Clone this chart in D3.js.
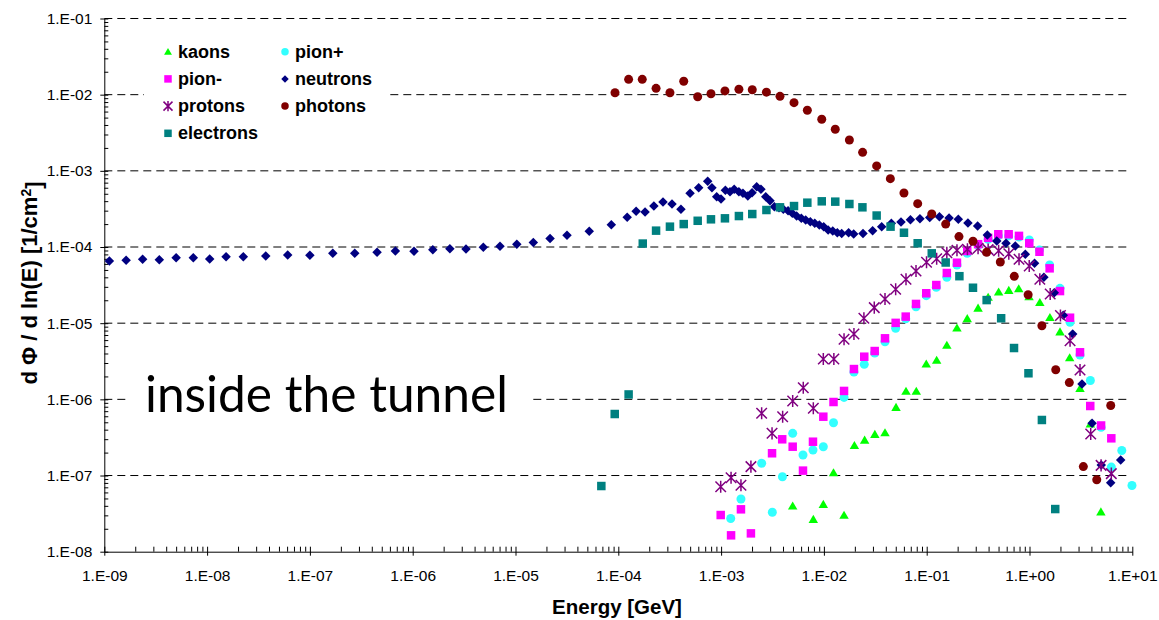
<!DOCTYPE html>
<html>
<head>
<meta charset="utf-8">
<script src="https://cdn.jsdelivr.net/npm/d3@7"></script>
<style>
  body { margin: 0; background: #fff; }
  svg { display: block; }
  .axis text, .lbl { font-family: "Liberation Sans", Arial, sans-serif; fill: #000; }
</style>
</head>
<body>
<svg id="chart" width="1159" height="620"></svg>
<script>
// Particle fluence spectra: [energy in GeV, dPhi/dln(E) in 1/cm^2]
const kaons = [
  [4.97e-3,3.98e-8],[7.89e-3,2.66e-8],[9.87e-3,4.19e-8],[1.24e-2,1.09e-7],[1.57e-2,3.01e-8],
  [1.98e-2,2.48e-7],[2.49e-2,2.92e-7],[3.13e-2,3.47e-7],[3.93e-2,3.65e-7],[5.03e-2,7.87e-7],
  [6.29e-2,1.28e-6],[7.92e-2,1.28e-6],[9.9e-2,2.91e-6],[0.125,3.26e-6],[0.157,5.13e-6],
  [0.197,8.65e-6],[0.248,1.15e-5],[0.316,1.58e-5],[0.396,2.19e-5],[0.501,2.57e-5],
  [0.629,2.7e-5],[0.786,2.84e-5],[0.99,2.23e-5],[1.26,1.87e-5],[1.58,1.19e-5],
  [1.98,7.71e-6],[2.46,3.52e-6],[3.1,1.39e-6],[3.91,4.75e-7],[4.95,3.34e-8]
];
const pionPlus = [
  [1.24e-3,2.73e-8],[1.56e-3,4.92e-8],[2.48e-3,1.45e-7],[3.15e-3,3.29e-8],[3.95e-3,9.65e-8],
  [4.97e-3,3.58e-7],[6.26e-3,1.86e-7],[7.83e-3,2.16e-7],[9.87e-3,2.39e-7],[1.24e-2,4.93e-7],
  [1.57e-2,1.06e-6],[1.96e-2,2.29e-6],[2.47e-2,2.88e-6],[3.12e-2,4.06e-6],[3.93e-2,5.71e-6],
  [4.99e-2,8.57e-6],[6.25e-2,1.14e-5],[7.87e-2,1.64e-5],[9.9e-2,2.3e-5],[0.124,2.96e-5],
  [0.157,4.0e-5],[0.197,5.81e-5],[0.248,8.26e-5],[0.316,1.06e-4],[0.396,1.26e-4],
  [0.497,1.4e-4],[0.627,1.4e-4],[0.79,1.35e-4],[0.995,1.24e-4],[1.25,9.14e-5],
  [1.57,5.81e-5],[1.98,2.87e-5],[2.48,1.03e-5],[3.1,3.82e-6],[3.91,1.77e-6],
  [4.97,4.31e-7],[6.25,1.29e-7],[7.9,2.13e-7],[9.93,7.4e-8]
];
const pionMinus = [
  [9.91e-4,3.03e-8],[1.25e-3,1.64e-8],[1.56e-3,3.6e-8],[1.95e-3,1.74e-8],[3.13e-3,1.96e-7],
  [3.93e-3,2.99e-7],[4.97e-3,2.39e-7],[6.26e-3,1.16e-7],[7.83e-3,2.78e-7],[9.87e-3,5.92e-7],
  [1.24e-2,9.23e-7],[1.57e-2,1.29e-6],[1.96e-2,2.5e-6],[2.47e-2,3.63e-6],[3.12e-2,4.31e-6],
  [3.93e-2,6.33e-6],[4.99e-2,1.01e-5],[6.25e-2,1.22e-5],[7.87e-2,1.79e-5],[9.9e-2,2.47e-5],
  [0.124,3.17e-5],[0.157,4.56e-5],[0.197,6.22e-5],[0.248,8.87e-5],[0.316,1.09e-4],
  [0.396,1.32e-4],[0.497,1.47e-4],[0.627,1.47e-4],[0.79,1.4e-4],[0.995,1.12e-4],
  [1.25,8.67e-5],[1.57,5.25e-5],[1.98,2.64e-5],[2.48,1.18e-5],[3.1,4.15e-6],
  [3.9,8.18e-7],[4.97,4.54e-7],[6.25,3.08e-7]
];
const neutrons = [
  [1.12e-9,6.55e-5],[1.63e-9,6.7e-5],[2.36e-9,6.9e-5],[3.43e-9,6.8e-5],[5.0e-9,7.24e-5],
  [7.34e-9,7.24e-5],[1.06e-8,6.96e-5],[1.53e-8,7.46e-5],[2.25e-8,7.46e-5],[3.72e-8,7.62e-5],
  [6.08e-8,7.85e-5],[1.0e-7,7.78e-5],[1.67e-7,8.26e-5],[2.73e-7,8.26e-5],[4.5e-7,8.53e-5],
  [6.78e-7,8.87e-5],[1.03e-6,8.79e-5],[1.57e-6,9.23e-5],[2.3e-6,9.5e-5],[3.3e-6,9.4e-5],
  [4.86e-6,9.9e-5],[7.07e-6,1.02e-4],[1.03e-5,1.09e-4],[1.49e-5,1.15e-4],[2.17e-5,1.29e-4],
  [3.17e-5,1.43e-4],[5.22e-5,1.61e-4],[8.55e-5,1.96e-4],[1.22e-4,2.45e-4],[1.49e-4,2.94e-4],
  [1.82e-4,2.88e-4],[2.22e-4,3.45e-4],[2.72e-4,3.9e-4],[3.33e-4,3.67e-4],[4.07e-4,3.13e-4],
  [4.99e-4,5.07e-4],[6.05e-4,6.01e-4],[7.41e-4,7.3e-4],[8.15e-4,6.01e-4],[9.06e-4,4.57e-4],
  [9.98e-4,4.27e-4],[1.10e-3,5.56e-4],[1.22e-3,5.32e-4],[1.34e-3,5.73e-4],[1.49e-3,5.32e-4],
  [1.63e-3,5.07e-4],[1.82e-3,4.68e-4],[2.0e-3,5.16e-4],[2.22e-3,6.19e-4],[2.44e-3,5.73e-4],
  [2.72e-3,4.57e-4],[2.99e-3,4.06e-4],[3.30e-3,3.38e-4],[3.66e-3,3.28e-4],[4.03e-3,3.13e-4],
  [4.48e-3,3.0e-4],[4.93e-3,2.77e-4],[5.43e-3,2.55e-4],[6.03e-3,2.38e-4],[6.65e-3,2.26e-4],
  [7.38e-3,2.15e-4],[8.15e-3,2.05e-4],[9.02e-3,1.95e-4],[9.96e-3,1.85e-4],[1.10e-2,1.67e-4],
  [1.22e-2,1.62e-4],[1.35e-2,1.54e-4],[1.49e-2,1.51e-4],[1.74e-2,1.54e-4],[1.95e-2,1.48e-4],
  [2.40e-2,1.51e-4],[2.98e-2,1.64e-4],[3.65e-2,1.85e-4],[4.53e-2,2.05e-4],[5.62e-2,2.13e-4],
  [6.95e-2,2.28e-4],[8.6e-2,2.35e-4],[0.107,2.44e-4],[0.133,2.5e-4],[0.165,2.4e-4],
  [0.203,2.31e-4],[0.252,2.07e-4],[0.313,1.89e-4],[0.389,1.44e-4],[0.48,1.2e-4],
  [0.591,1.12e-4],[0.728,1.03e-4],[0.91,8.02e-5],[1.12,6.11e-5],[1.38,4.0e-5],
  [1.74,2.51e-5],[2.13,1.27e-5],[2.63,7.21e-6],[3.24,1.59e-6],[4.06,4.85e-7],
  [4.99,1.37e-7],[6.16,8.05e-8],[7.71,1.6e-7]
];
const protons = [
  [9.91e-4,7.13e-8],[1.25e-3,9.36e-8],[1.56e-3,7.45e-8],[1.95e-3,1.31e-7],[2.48e-3,6.56e-7],
  [3.13e-3,3.58e-7],[3.97e-3,5.92e-7],[4.97e-3,9.5e-7],[6.3e-3,1.42e-6],[7.89e-3,7.63e-7],
  [9.87e-3,3.39e-6],[1.25e-2,3.39e-6],[1.57e-2,6.14e-6],[1.96e-2,7.21e-6],[2.45e-2,1.16e-5],
  [3.09e-2,1.6e-5],[3.93e-2,2.08e-5],[4.99e-2,2.79e-5],[6.29e-2,3.77e-5],[7.87e-2,4.84e-5],
  [9.96e-2,6.32e-5],[0.125,7.0e-5],[0.157,8.42e-5],[0.197,9.06e-5],[0.249,9.33e-5],
  [0.316,9.62e-5],[0.396,9.24e-5],[0.501,8.95e-5],[0.629,8.15e-5],[0.791,6.9e-5],
  [0.994,5.64e-5],[1.26,3.78e-5],[1.59,2.42e-5],[2.0,1.26e-5],[2.48,5.89e-6],
  [3.1,2.43e-6],[3.94,3.51e-7],[4.97,1.36e-7],[6.25,1.06e-7]
];
const photons = [
  [9.29e-5,1.06e-2],[1.26e-4,1.59e-2],[1.71e-4,1.59e-2],[2.33e-4,1.21e-2],[3.18e-4,1.06e-2],
  [4.33e-4,1.5e-2],[5.92e-4,9.4e-3],[7.97e-4,1.03e-2],[1.09e-3,1.12e-2],[1.49e-3,1.18e-2],
  [2.01e-3,1.16e-2],[2.76e-3,1.08e-2],[3.74e-3,9.5e-3],[5.12e-3,7.85e-3],[6.9e-3,6.24e-3],
  [9.53e-3,4.75e-3],[1.29e-2,3.51e-3],[1.77e-2,2.54e-3],[2.38e-2,1.75e-3],[3.26e-2,1.16e-3],
  [4.43e-2,7.89e-4],[6.01e-2,5.12e-4],[8.17e-2,3.71e-4],[0.112,2.71e-4],[0.153,2.0e-4],
  [0.206,1.37e-4],[0.282,1.19e-4],[0.383,8.53e-5],[0.52,6.36e-5],[0.711,4.12e-5],
  [0.97,2.36e-5],[1.32,9.27e-6],[1.8,2.45e-6],[2.44,1.66e-6],[3.34,1.31e-7],
  [4.51,8.81e-8],[6.17,8.3e-7]
];
const electrons = [
  [6.84e-5,7.28e-8],[9.23e-5,6.42e-7],[1.26e-4,1.16e-6],[1.73e-4,1.11e-4],[2.33e-4,1.64e-4],
  [3.18e-4,1.85e-4],[4.33e-4,2.0e-4],[5.92e-4,2.21e-4],[7.97e-4,2.31e-4],[1.09e-3,2.38e-4],
  [1.49e-3,2.55e-4],[2.01e-3,2.71e-4],[2.76e-3,3.06e-4],[3.74e-3,3.32e-4],[5.12e-3,3.45e-4],
  [6.9e-3,3.82e-4],[9.53e-3,3.98e-4],[1.29e-2,3.94e-4],[1.77e-2,3.67e-4],[2.37e-2,3.32e-4],
  [3.26e-2,2.59e-4],[4.45e-2,1.85e-4],[6.01e-2,1.54e-4],[8.17e-2,1.12e-4],[0.112,8.26e-5],
  [0.153,6.26e-5],[0.208,4.14e-5],[0.282,2.92e-5],[0.383,2.01e-5],[0.53,1.16e-5],
  [0.707,4.72e-6],[0.977,2.2e-6],[1.32,5.36e-7],[1.78,3.63e-8]
];

const seriesNames = ["kaons", "pion+", "pion-", "neutrons", "protons", "photons", "electrons"];
const seriesData = [kaons, pionPlus, pionMinus, neutrons, protons, photons, electrons];
const seriesColors = ["#00ff00", "#33ffff", "#ff00ff", "#000080", "#800080", "#800000", "#008080"];
const seriesShapes = ["triangle", "circle", "square", "diamond", "asterisk", "circle", "square"];

const xTickValues = [1e-9, 1e-8, 1e-7, 1e-6, 1e-5, 1e-4, 1e-3, 1e-2, 1e-1, 1e0, 1e1];
const yTickValues = [1e-8, 1e-7, 1e-6, 1e-5, 1e-4, 1e-3, 1e-2, 1e-1];
const xTitle = "Energy [GeV]";
const noteText = "inside the tunnel";

const fmtExp = v => {
  const e = Math.round(Math.log10(v));
  return "1.E" + (e < 0 ? "-" : "+") + String(Math.abs(e)).padStart(2, "0");
};
const minorTicks = (lo, hi) => {
  const out = [];
  for (let e = lo; e < hi; e++) for (let m = 2; m <= 9; m++) out.push(m * Math.pow(10, e));
  return out;
};

const svg = d3.select("#chart");
const x = d3.scaleLog().domain([1e-9, 1e1]).range([104.3, 1132.3]);
const y = d3.scaleLog().domain([1e-8, 1e-1]).range([551.7, 18.5]);

// horizontal dashed gridlines at each decade
svg.append("g").selectAll("line")
  .data(yTickValues.filter(v => v > 1e-8))
  .join("line")
  .attr("x1", x.range()[0]).attr("x2", 1127)
  .attr("y1", d => y(d)).attr("y2", d => y(d))
  .attr("stroke", "#000").attr("stroke-width", 1)
  .attr("stroke-dasharray", "8,5");

// y axis: major ticks crossing, minor ticks inside
const yAxis = svg.append("g").attr("class", "axis")
  .attr("transform", `translate(${x.range()[0]},0)`)
  .call(d3.axisLeft(y).tickValues(yTickValues).tickFormat(fmtExp)
    .tickSizeInner(4).tickSizeOuter(0).tickPadding(8));
yAxis.selectAll(".tick line").attr("x1", 4);
yAxis.selectAll("text").style("font-size", "15.5px");
svg.append("g").attr("class", "axis")
  .attr("transform", `translate(${x.range()[0]},0)`)
  .call(d3.axisLeft(y).tickValues(minorTicks(-8, -1)).tickFormat("")
    .tickSizeInner(-4).tickSizeOuter(0))
  .select(".domain").remove();

// x axis
const xAxis = svg.append("g").attr("class", "axis")
  .attr("transform", `translate(0,${y.range()[0]})`)
  .call(d3.axisBottom(x).tickValues(xTickValues).tickFormat(fmtExp)
    .tickSizeInner(4).tickSizeOuter(0).tickPadding(14));
xAxis.selectAll(".tick line").attr("y1", -5);
xAxis.selectAll("text").style("font-size", "15.5px");
svg.append("g").attr("class", "axis")
  .attr("transform", `translate(0,${y.range()[0]})`)
  .call(d3.axisBottom(x).tickValues(minorTicks(-9, 1)).tickFormat("")
    .tickSizeInner(-5).tickSizeOuter(0))
  .select(".domain").remove();
svg.selectAll(".axis .domain, .axis line").attr("stroke", "#000");

// axis titles
svg.append("text").attr("class", "lbl")
  .attr("x", 617).attr("y", 614)
  .attr("text-anchor", "middle")
  .style("font-size", "20.5px").style("font-weight", "bold")
  .text(xTitle);
const yt = svg.append("text").attr("class", "lbl")
  .attr("transform", "translate(37,283) rotate(-90)")
  .attr("text-anchor", "middle")
  .style("font-size", "22px").style("font-weight", "bold");
yt.append("tspan").text("d \u03A6 / d ln(E) [1/cm");
yt.append("tspan").attr("dy", "-0.45em").style("font-size", "14px").text("2");
yt.append("tspan").attr("dy", "0.45em").text("]");

// marker shapes
function markerPath(shape, s) {
  const h = s / 2;
  switch (shape) {
    case "triangle": return `M0,${-h}L${h * 1.05},${h * 0.8}L${-h * 1.05},${h * 0.8}Z`;
    case "square": return `M${-h},${-h}H${h}V${h}H${-h}Z`;
    case "diamond": return `M0,${-h}L${h},0L0,${h}L${-h},0Z`;
    case "circle": return d3.symbol(d3.symbolCircle, Math.PI * h * h)();
    case "asterisk": return `M${-h},${-h}L${h},${h}M${-h},${h}L${h},${-h}M0,${-h * 1.15}V${h * 1.15}`;
  }
}
function drawMarker(sel, shape, color, s) {
  sel.attr("d", markerPath(shape, s));
  if (shape === "asterisk") sel.attr("fill", "none").attr("stroke", color).attr("stroke-width", 1.5);
  else sel.attr("fill", color).attr("stroke", "none");
}

// series points
const markerSize = { triangle: 9, circle: 9, square: 8.5, diamond: 9.5, asterisk: 10.5 };
seriesData.forEach((data, i) => {
  svg.append("g").selectAll("path")
    .data(data)
    .join("path")
    .attr("transform", d => `translate(${x(d[0])},${y(d[1])})`)
    .call(sel => drawMarker(sel, seriesShapes[i], seriesColors[i], markerSize[seriesShapes[i]]));
});

// legend
const legend = svg.append("g");
legend.append("rect").attr("x", 144).attr("y", 32).attr("width", 242).attr("height", 116).attr("fill", "#fff");
seriesNames.forEach((name, i) => {
  const col = i % 2, row = Math.floor(i / 2);
  const cx = col === 0 ? 168 : 285, cy = 51.7 + row * 27.2;
  legend.append("path")
    .attr("transform", `translate(${cx},${cy})`)
    .call(sel => drawMarker(sel, seriesShapes[i], seriesColors[i], seriesShapes[i] === "asterisk" ? 9 : 7.5));
  legend.append("text").attr("class", "lbl")
    .attr("x", cx + 10).attr("y", cy + 6)
    .style("font-size", "18px").style("font-weight", "bold")
    .text(name);
});

// annotation
svg.append("rect").attr("x", 127).attr("y", 362).attr("width", 406).attr("height", 76).attr("fill", "#fff");
const note = svg.append("text")
  .attr("x", 145).attr("y", 411.5)
  .style("font-family", "Lato, 'Open Sans', sans-serif")
  .style("font-size", "44px").attr("fill", "#000")
  .text(noteText);
const len = note.node().getComputedTextLength();
note.style("font-size", (44 * 363 / len).toFixed(2) + "px");
</script>
</body>
</html>
